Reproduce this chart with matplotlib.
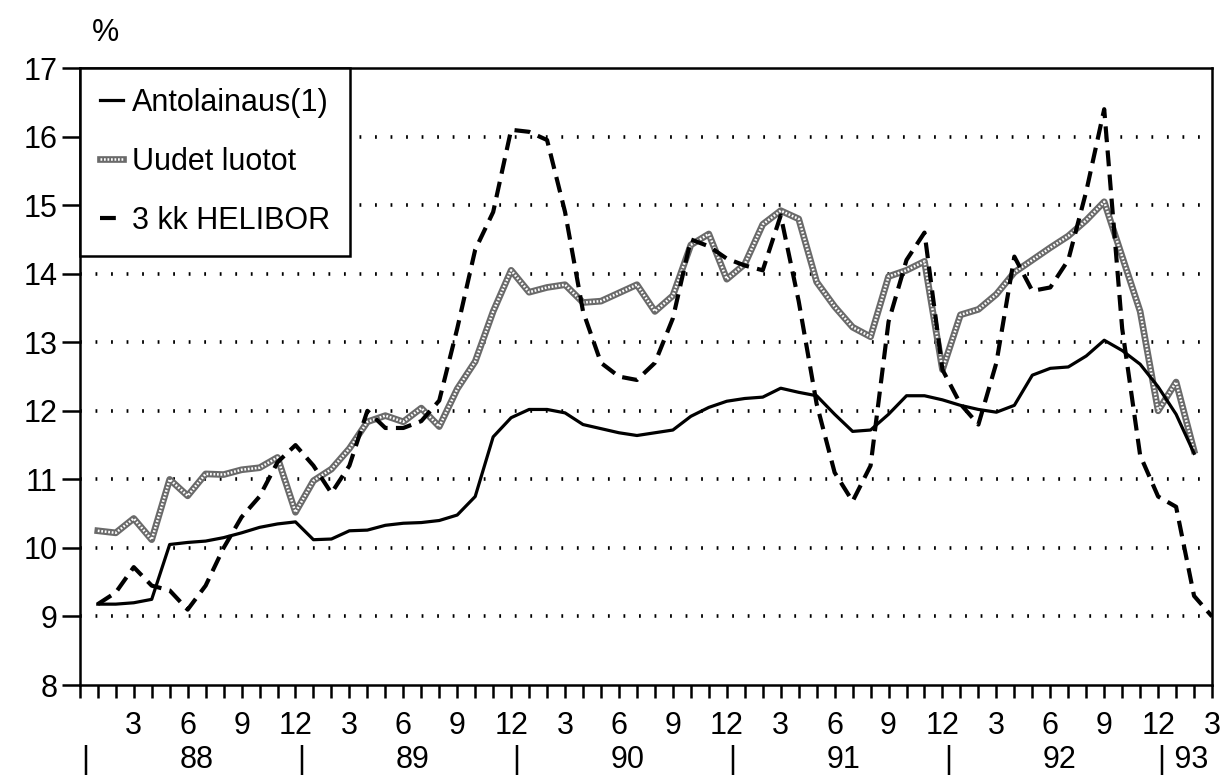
import matplotlib
matplotlib.use("Agg")
import matplotlib.pyplot as plt
import numpy as np

plt.rcParams["font.family"] = ["Liberation Sans", "DejaVu Sans"]

# months: 1 = Jan 88 ... 63 = Mar 93
months_a = np.arange(1, 63)
antolainaus = [9.18, 9.18, 9.20, 9.25, 10.05, 10.08, 10.10, 10.15, 10.22, 10.30,
               10.35, 10.38, 10.12, 10.13, 10.25, 10.26, 10.33, 10.36, 10.37, 10.40,
               10.48, 10.75, 11.62, 11.90, 12.02, 12.02, 11.97, 11.80, 11.74, 11.68,
               11.64, 11.68, 11.72, 11.92, 12.05, 12.14, 12.18, 12.20, 12.33, 12.27,
               12.22, 11.95, 11.70, 11.72, 11.95, 12.22, 12.22, 12.16, 12.08, 12.02,
               11.98, 12.08, 12.52, 12.62, 12.64, 12.80, 13.03, 12.88, 12.68, 12.35,
               11.95, 11.38]
uudet_luotot = [10.25, 10.22, 10.43, 10.12, 11.00, 10.76, 11.08, 11.07, 11.14, 11.17,
                11.32, 10.52, 10.98, 11.15, 11.45, 11.84, 11.93, 11.84, 12.04, 11.77,
                12.32, 12.72, 13.45, 14.05, 13.73, 13.80, 13.84, 13.58, 13.60, 13.72,
                13.84, 13.45, 13.68, 14.42, 14.58, 13.92, 14.14, 14.72, 14.92, 14.80,
                13.88, 13.52, 13.22, 13.08, 13.96, 14.05, 14.18, 12.60, 13.40, 13.48,
                13.70, 14.02, 14.20, 14.38, 14.55, 14.78, 15.05, 14.25, 13.45, 12.00,
                12.42, 11.42]
months_h = np.arange(1, 64)
helibor = [9.18, 9.35, 9.72, 9.45, 9.38, 9.10, 9.45, 10.00, 10.45, 10.75,
           11.25, 11.50, 11.20, 10.80, 11.20, 12.00, 11.75, 11.75, 11.85, 12.15,
           13.20, 14.35, 14.90, 16.10, 16.07, 15.95, 14.90, 13.45, 12.70, 12.50,
           12.45, 12.70, 13.35, 14.50, 14.40, 14.22, 14.12, 14.05, 14.85, 13.60,
           12.10, 11.10, 10.68, 11.20, 13.30, 14.20, 14.60, 12.60, 12.10, 11.80,
           12.70, 14.25, 13.75, 13.80, 14.20, 15.20, 16.40, 13.20, 11.35, 10.75,
           10.60, 9.30, 9.00]

month_labels = ["3", "6", "9", "12"]
years = ["88", "89", "90", "91", "92"]

FS = 22

fig = plt.figure(figsize=(12.28, 7.78), dpi=100)
ax = fig.add_axes([0.065, 0.1195, 0.922, 0.793])

# dotted grid
for v in range(9, 17):
    ax.axhline(v, color="black", lw=2.6, ls=(0, (0.5, 3.8)), zorder=1)

l1, = ax.plot(months_a, antolainaus, color="black", lw=2.3, zorder=4)
g1, = ax.plot(months_a, uudet_luotot, color="#6a6a6a", lw=4.8, zorder=3)
g2, = ax.plot(months_a, uudet_luotot, color="white", lw=1.8, ls=(0, (0.7, 0.7)),
              zorder=3)
l3, = ax.plot(months_h, helibor, color="black", lw=3.0, dashes=(3.8, 2.0), zorder=5)

ax.set_xlim(0, 63)
ax.set_ylim(8, 17)
ax.set_yticks(range(8, 18))
ax.tick_params(axis="y", length=13, width=1.8, pad=3, labelsize=FS, direction="out")

xt = list(range(0, 64))
xl = [month_labels[(k // 3 - 1) % 4] if (k % 3 == 0 and k > 0) else "" for k in xt]
ax.set_xticks(xt)
ax.set_xticklabels(xl)
ax.tick_params(axis="x", length=9, width=1.8, pad=10, labelsize=FS, direction="out")

for s in ax.spines.values():
    s.set_linewidth(1.8)

tr = ax.get_xaxis_transform()
for i, y in enumerate(years):
    ax.text(6.5 + 12 * i, -0.122, y, transform=tr, ha="center", va="center",
            fontsize=FS)
for k in [0.3, 12.3, 24.3, 36.3, 48.3]:
    ax.text(k, -0.122, "|", transform=tr, ha="center", va="center", fontsize=FS)
ax.text(60.0, -0.122, "| 93", transform=tr, ha="left", va="center", fontsize=FS)

fig.text(0.075, 0.957, "%", fontsize=FS, ha="left", va="center")

leg = ax.legend([l1, (g1, g2), l3],
                ["Antolainaus(1)", "Uudet luotot", "3 kk HELIBOR"],
                loc="upper left", bbox_to_anchor=(0, 1), borderaxespad=0,
                fontsize=FS, handlelength=0.75, handletextpad=0.3,
                labelspacing=0.95, borderpad=0.65, fancybox=False,
                framealpha=1, edgecolor="black")
leg.get_frame().set_linewidth(1.8)
leg.set_zorder(10)

fig.savefig("out.png", dpi=100)
